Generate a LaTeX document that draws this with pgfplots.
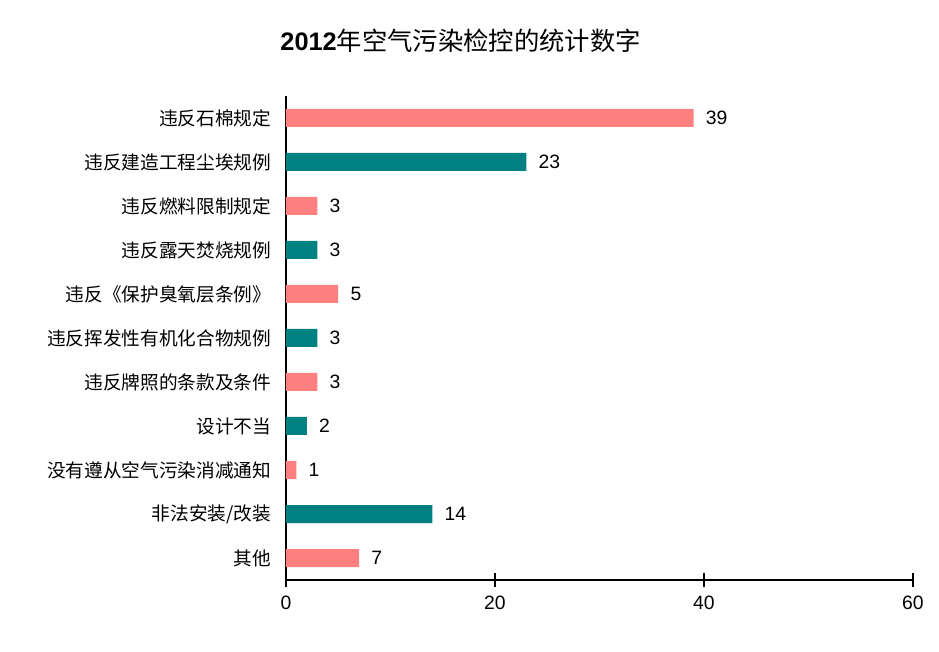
\documentclass[border=0pt]{standalone}
\usepackage{fontspec}
\setmainfont{Liberation Sans}
\newfontfamily\cjk{Noto Sans CJK SC}
\usepackage{pgfplots}
\pgfplotsset{compat=1.18}

\definecolor{salmon}{HTML}{FF8080}
\definecolor{tealbar}{HTML}{008080}

\begin{document}
\begin{tikzpicture}
\useasboundingbox (-214.5pt,-54pt) rectangle (489.75pt,435pt);
\begin{axis}[
    at={(0,0)}, anchor=south west,
    scale only axis,
    width=470.25pt, height=363pt,
    xmin=0, xmax=60,
    ymin=-0.5, ymax=10.5,
    y dir=reverse,
    xbar, bar width=13.5pt, bar shift=0pt,
    axis x line=bottom, axis y line=left,
    axis line style={-, line width=0.8pt},
    xtick={0,20,40,60},
    tick align=center,
    x tick style={line width=0.8pt, black},
    major tick length=10pt,
    ytick={0,...,10},
    y tick style={draw=none},
    yticklabels={
        违反石棉规定,
        违反建造工程尘埃规例,
        违反燃料限制规定,
        违反露天焚烧规例,
        违反《保护臭氧层条例》,
        违反挥发性有机化合物规例,
        违反牌照的条款及条件,
        设计不当,
        没有遵从空气污染消减通知,
        非法安装/改装,
        其他},
    yticklabel style={font=\cjk\fontsize{14}{16}\selectfont, inner sep=0pt, xshift=-6pt},
    xticklabel style={font=\fontsize{14.5}{16}\selectfont, yshift=-3.5pt},
    /pgf/number format/assume math mode=true,
    nodes near coords,
    nodes near coords style={font=\fontsize{14.5}{16}\selectfont, text=black, inner sep=0pt, anchor=west, xshift=9pt},
]
\addplot[fill=salmon, draw=none] coordinates {
    (39,0) (3,2) (5,4) (3,6) (1,8) (7,10)
};
\addplot[fill=tealbar, draw=none] coordinates {
    (23,1) (3,3) (3,5) (2,7) (14,9)
};
\end{axis}
\node at (131pt,404pt) {\fontsize{19}{22}\selectfont\textbf{2012}{\cjk 年空气污染检控的统计数字}};
\end{tikzpicture}
\end{document}
